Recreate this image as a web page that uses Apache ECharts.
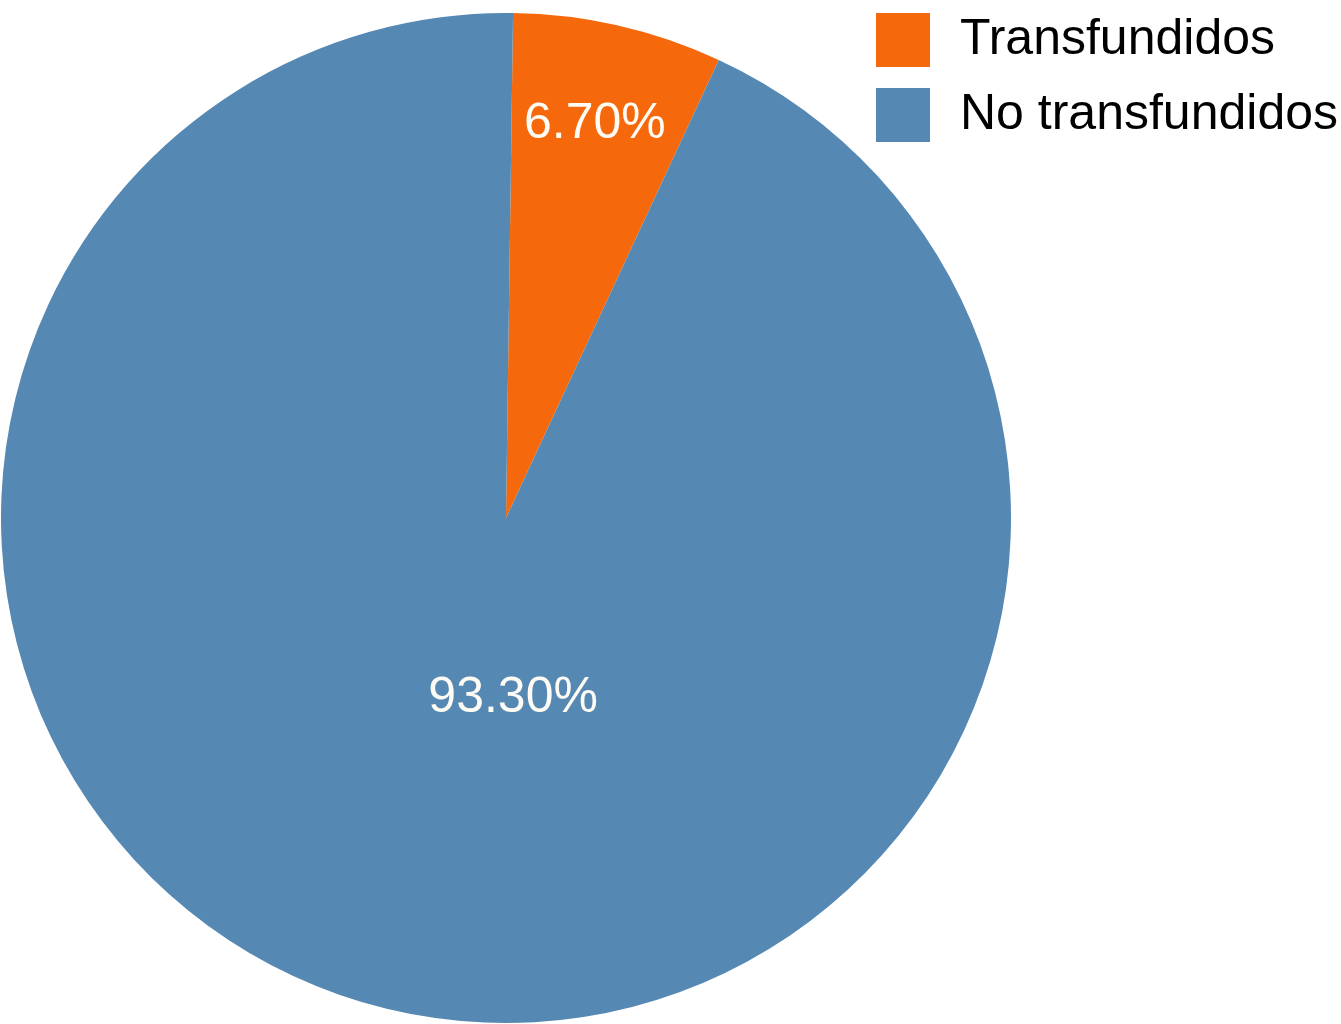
<!DOCTYPE html>
<html>
<head>
<meta charset="utf-8">
<title>Transfundidos</title>
<script src="https://cdn.jsdelivr.net/npm/echarts@6/dist/echarts.min.js"></script>
<style>
  html, body { margin: 0; padding: 0; background: #fff; }
  #main { width: 1341px; height: 1024px; }
</style>
</head>
<body>
<div id="main"></div>
<script>
// datos del grafico
const categories = ['Transfundidos', 'No transfundidos']
const percents = [6.7, 93.3]
const colors = ['#F5690C', '#5588B3']
// desplazamiento de las etiquetas (el original no las pone en el centro del sector)
const labelOffsets = [[32, -145], [64, -69]]

const chart = echarts.init(document.getElementById('main'))

const option = {
  animation: false,
  legend: {
    data: categories,
    orient: 'vertical',
    left: 871,
    top: 8,
    itemWidth: 54,
    itemHeight: 54,
    itemGap: 21,
    icon: 'rect',
    textStyle: {
      fontFamily: 'Liberation Sans, Arial, sans-serif',
      fontSize: 50,
      color: '#000',
      padding: [0, 0, 0, 25]
    }
  },
  series: [
    {
      type: 'pie',
      center: [506, 518],
      radius: 505,
      startAngle: 89.2,
      clockwise: true,
      silent: true,
      itemStyle: { borderWidth: 0 },
      label: {
        show: true,
        position: 'inside',
        color: '#FFFBF5',
        fontFamily: 'Liberation Sans, Arial, sans-serif',
        fontSize: 50,
        formatter: p => p.value.toFixed(2) + '%'
      },
      labelLine: { show: false },
      data: categories.map((name, i) => ({
        name: name,
        value: percents[i],
        itemStyle: { color: colors[i] },
        label: { offset: labelOffsets[i] }
      }))
    }
  ]
}

chart.setOption(option)
</script>
</body>
</html>
